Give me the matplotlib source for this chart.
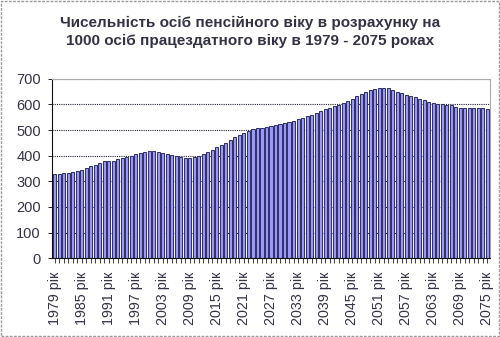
import matplotlib
matplotlib.use("Agg")
import matplotlib.pyplot as plt
from matplotlib.patches import Rectangle

plt.rcParams['font.family'] = ['Liberation Sans', 'DejaVu Sans']

years = list(range(1979, 2076))
values = [
    328, 330, 332, 334, 336, 340, 346, 352, 358, 365,   # 1979-1988
    372, 378, 380, 381, 388, 391, 395, 400, 405, 410,   # 1989-1998
    416, 419, 417, 413, 410, 405, 402, 399, 396, 392,   # 1999-2008
    391, 393, 400, 406, 414, 422, 432, 440, 450, 460,   # 2009-2018
    472, 482, 490, 498, 503, 507, 510, 513, 516, 520,   # 2019-2028
    523, 527, 532, 537, 542, 548, 554, 560, 567, 574,   # 2029-2038
    582, 588, 593, 598, 606, 614, 622, 632, 642, 649,   # 2039-2048
    656, 660, 664, 665, 663, 658, 650, 644, 638, 633,   # 2049-2058
    628, 623, 617, 611, 606, 602, 600, 599, 596, 590,   # 2059-2068
    588, 587, 587, 587, 587, 586, 582,                  # 2069-2075
]
label_years = list(range(1979, 2076, 6))
title = "Чисельність осіб пенсійного віку в розрахунку на\n1000 осіб працездатного віку в 1979 - 2075 роках"

text_color = "#333344"

fig = plt.figure(figsize=(5.0, 3.37), dpi=100)
ax = fig.add_axes([0.104, 0.234, 0.876, 0.532])

x = list(range(len(years)))
ax.bar(x, values, width=0.68, color="#9999ff", edgecolor="#333366",
       linewidth=0.75, zorder=2)

ax.set_xlim(-0.6, len(years) - 0.4)
ax.set_ylim(0, 700)
ax.set_yticks(range(0, 701, 100))
ax.yaxis.grid(True, linestyle=(0, (1, 1)), color="#222233", linewidth=0.8, zorder=1)
ax.set_axisbelow(True)

ax.set_xticks([years.index(y) for y in label_years])
ax.set_xticklabels([f"{y} рік" for y in label_years], rotation=90)
ax.set_xticks(x, minor=True)
ax.tick_params(axis='x', which='both', length=3.5, width=0.6, color="#222222",
               direction='out', labelsize=10.3, labelcolor=text_color, pad=6)
ax.tick_params(axis='y', length=3, width=0.6, direction='out',
               labelsize=10.5, labelcolor=text_color, pad=5)

for side in ("top", "right"):
    ax.spines[side].set_color("#aaaaaa")
    ax.spines[side].set_linewidth(0.8)
    ax.spines[side].set_linestyle((0, (2, 1)))
for side in ("left", "bottom"):
    ax.spines[side].set_color("#111111")
    ax.spines[side].set_linewidth(0.8)

fig.text(0.5, 0.905, title, ha='center', va='center', fontsize=11,
         fontweight='bold', color=text_color, linespacing=1.35)

fig.patches.append(Rectangle((0.002, 0.003), 0.996, 0.994, transform=fig.transFigure,
                             fill=False, edgecolor="#999999", linewidth=1.0,
                             linestyle=(0, (2, 1))))

fig.savefig("out.png", dpi=100)
